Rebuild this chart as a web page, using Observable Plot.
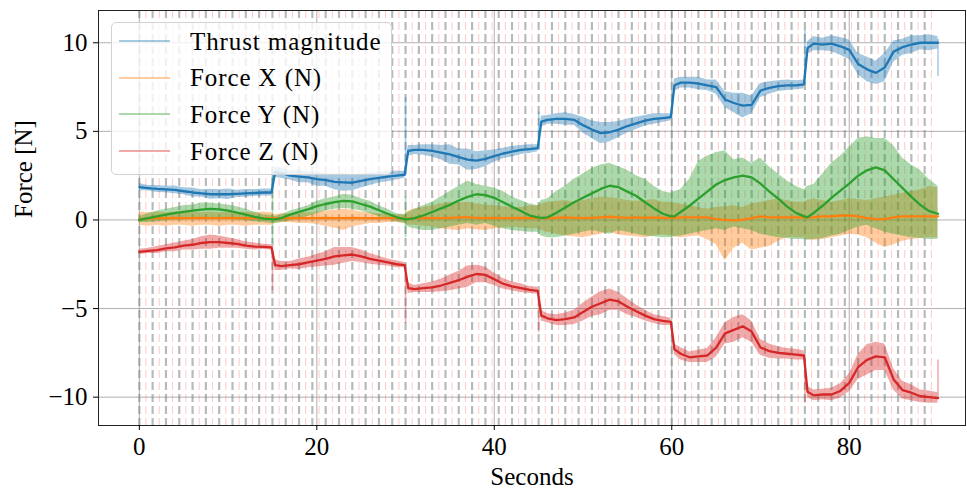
<!DOCTYPE html>
<html><head><meta charset="utf-8">
<script src="https://cdn.jsdelivr.net/npm/d3@7"></script>
<script src="https://cdn.jsdelivr.net/npm/@observablehq/plot@0.6"></script>
<style>
body{margin:0;background:#fff;}
#wrap{position:relative;width:967px;height:488px;overflow:hidden;}
#legend{position:absolute;left:111px;top:22px;width:281px;height:153px;box-sizing:border-box;border:1px solid #d2d2d2;border-radius:5px;background:rgba(255,255,255,0.8);}
.row{display:flex;align-items:center;height:36.6px;}
.sw{margin-left:7px;width:51px;height:2px;}
.lb{margin-left:20px;font-family:"Liberation Serif",serif;font-size:25px;line-height:1;color:#000;white-space:nowrap;letter-spacing:0.9px;}
</style></head><body><div id="wrap"></div>
<script>
// ---- time grid (seconds) ----
const T = [0,1,2,3,4,5,6,7,8,9,10,11,12,13,14,
 14.9,15.3,
 16,17,18,19,20,21,22,23,24,25,26,27,28,29,
 29.9,30.3,
 31,32,33,34,35,36,37,38,39,40,41,42,43,44,
 44.9,45.3,
 46,47,48,49,50,51,52,53,54,55,56,57,58,59,
 59.9,60.3,
 61,62,63,64,65,66,67,68,69,70,71,72,73,74,
 74.9,75.3,
 76,77,78,79,80,81,82,83,84,85,86,87,88,89,90];

// ---- Thrust magnitude (smoothed) and raw half-spread ----
const thrustV = [1.85,1.8,1.75,1.72,1.7,1.62,1.55,1.5,1.45,1.45,1.45,1.47,1.5,1.52,1.55,
 1.55,2.7,
 2.65,2.5,2.45,2.4,2.3,2.25,2.15,2.12,2.1,2.2,2.3,2.38,2.45,2.5,
 2.55,3.9,
 3.95,3.95,3.9,3.8,3.7,3.55,3.4,3.35,3.45,3.6,3.75,3.85,3.95,4.0,
 4.05,5.55,
 5.65,5.7,5.7,5.65,5.35,5.1,4.9,4.95,5.1,5.3,5.45,5.6,5.7,5.75,
 5.8,7.6,
 7.75,7.75,7.7,7.6,7.5,6.8,6.6,6.45,6.5,7.3,7.45,7.55,7.6,7.6,
 7.65,9.7,
 9.95,9.9,9.95,9.8,9.6,8.8,8.5,8.3,8.6,9.5,9.75,9.9,10.0,10.0,10.0];
const thrustS = [.2,.15,.2,.18,.22,.2,.25,.2,.28,.25,.3,.2,.22,.2,.2,
 .2,.3,
 .3,.25,.35,.3,.4,.35,.45,.5,.45,.4,.35,.3,.3,.25,
 .2,.3,
 .25,.3,.35,.4,.55,.45,.6,.5,.45,.35,.3,.3,.25,.25,
 .2,.3,
 .25,.3,.35,.3,.45,.5,.6,.55,.45,.4,.35,.3,.3,.25,
 .2,.35,
 .3,.3,.35,.3,.4,.45,.55,.7,.5,.4,.35,.3,.3,.25,
 .25,.35,
 .4,.35,.45,.5,.55,.6,.7,.65,.8,.6,.45,.5,.4,.45,.35];

// ---- Force X (smoothed) and raw envelope ----
const fxV = [.05,.08,.1,.1,.12,.1,.1,.12,.1,.1,.12,.1,.1,.1,.1,
 .1,.1,
 .1,.1,.12,.1,.1,.12,.1,.1,.12,.1,.1,.1,.1,.1,
 .08,.08,
 .1,.12,.1,.1,.12,.15,.15,.12,.1,.12,.1,.1,.12,.1,
 .1,.1,
 .1,.12,.15,.12,.1,.12,.15,.18,.15,.12,.15,.12,.15,.12,
 .12,.12,
 .15,.15,.15,.15,.05,0,-.02,.02,.1,.2,.15,.15,.15,.15,
 .15,.15,
 .15,.2,.2,.25,.25,.2,.1,.05,.05,.15,.2,.2,.2,.2,.2];
const fxLo = [-.3,-.35,-.3,-.35,-.3,-.3,-.35,-.3,-.3,-.35,-.3,-.3,-.35,-.3,-.3,
 -.3,-.2,
 -.15,-.15,-.2,-.2,-.25,-.35,-.45,-.6,-.4,-.3,-.2,-.2,-.15,-.15,
 -.2,-.3,
 -.3,-.35,-.4,-.5,-.55,-.6,-.5,-.55,-.6,-.5,-.45,-.4,-.45,-.5,
 -.5,-.6,
 -.7,-.8,-.9,-.95,-1.0,-.9,-.8,-.7,-.85,-.9,-.95,-1.0,-.9,-.85,
 -.9,-.95,
 -1.0,-.95,-.9,-1.1,-1.4,-2.3,-1.6,-1.3,-1.7,-1.6,-1.5,-1.2,-1.0,-1.0,
 -1.0,-1.1,
 -1.15,-1.1,-1.0,-.9,-.8,-.85,-1.0,-1.3,-1.55,-1.4,-1.2,-1.1,-1.05,-1.0,-1.0];
const fxHi = [.45,.4,.45,.4,.45,.5,.45,.4,.45,.4,.45,.4,.45,.4,.45,
 .4,.3,
 .35,.35,.4,.4,.45,.5,.55,.6,.55,.45,.4,.35,.35,.3,
 .3,.5,
 .6,.7,.8,.9,1.0,.95,1.0,.9,.85,.8,.75,.7,.7,.8,
 .8,.9,
 1.0,1.05,1.1,1.0,1.1,1.2,1.3,1.25,1.2,1.1,1.05,1.1,1.15,1.0,
 1.0,.95,
 .9,.8,.7,.6,.7,.75,.8,.7,.9,1.0,1.1,1.2,1.1,1.0,
 1.0,1.1,
 1.2,1.1,1.0,1.1,1.2,1.15,1.1,1.2,1.3,1.4,1.5,1.6,1.7,1.9,1.8];

// ---- Force Y (smoothed) and raw envelope ----
const fyV = [0,.1,.2,.3,.38,.45,.52,.58,.62,.6,.52,.42,.3,.18,.08,
 .05,.03,
 .1,.3,.45,.6,.78,.9,1.0,1.08,1.05,.9,.75,.55,.35,.15,
 .05,.05,
 .1,.25,.45,.65,.85,1.1,1.3,1.45,1.4,1.25,1.0,.75,.5,.25,
 .15,.12,
 .15,.4,.7,1.0,1.25,1.5,1.75,1.93,1.85,1.6,1.35,1.0,.65,.35,
 .2,.2,
 .45,.8,1.2,1.6,2.0,2.25,2.4,2.5,2.4,2.05,1.6,1.2,.75,.4,
 .2,.15,
 .4,.8,1.25,1.65,2.05,2.5,2.8,2.97,2.8,2.3,1.8,1.3,.85,.5,.35];
const fyLo = [-.15,-.15,-.1,-.05,0,0,.05,.1,.1,.1,.05,0,-.05,-.1,-.15,
 -.2,-.2,
 -.15,-.05,.05,.2,.35,.5,.6,.65,.6,.5,.35,.2,.05,-.1,
 -.2,-.4,
 -.5,-.6,-.6,-.5,-.4,-.3,-.2,-.3,-.2,-.35,-.5,-.6,-.65,-.7,
 -.7,-.9,
 -1.0,-1.0,-.9,-.8,-.7,-.6,-.7,-.8,-.6,-.7,-.8,-.9,-.95,-1.0,
 -1.0,-.95,
 -.9,-.8,-.7,-.6,-.5,-.6,-.4,-.5,-.6,-.8,-.9,-1.0,-1.05,-1.1,
 -1.1,-1.15,
 -1.1,-1.05,-.9,-.8,-.6,-.4,-.3,-.5,-.7,-.8,-.9,-1.0,-1.05,-1.1,-1.1];
const fyHi = [.2,.35,.5,.6,.7,.8,.85,.95,.95,.9,.85,.75,.6,.45,.3,
 .25,.2,
 .3,.5,.65,.8,1.05,1.2,1.3,1.45,1.4,1.2,1.05,.8,.6,.35,
 .3,.4,
 .6,.8,1.0,1.3,1.6,1.9,2.2,2.0,1.9,1.8,1.6,1.3,1.1,.9,
 .8,1.1,
 1.2,1.6,1.9,2.3,2.6,2.9,3.1,3.2,3.0,2.8,2.5,2.3,1.9,1.6,
 1.5,1.6,
 1.7,2.3,3.3,3.6,3.8,3.9,3.4,3.5,3.2,3.5,3.0,2.6,2.2,1.9,
 1.7,1.9,
 2.0,2.6,3.2,3.6,4.1,4.6,4.7,4.6,4.6,4.2,3.5,3.1,2.8,2.3,1.9];

// ---- Force Z (smoothed) and raw half-spread ----
const fzV = [-1.8,-1.75,-1.7,-1.6,-1.55,-1.45,-1.4,-1.3,-1.25,-1.25,-1.3,-1.35,-1.45,-1.5,-1.52,
 -1.55,-2.55,
 -2.6,-2.55,-2.5,-2.4,-2.3,-2.2,-2.05,-2.0,-1.95,-2.05,-2.2,-2.3,-2.4,-2.5,
 -2.55,-3.85,
 -3.9,-3.85,-3.8,-3.7,-3.55,-3.4,-3.2,-3.05,-3.1,-3.35,-3.6,-3.75,-3.85,-3.95,
 -4.0,-5.4,
 -5.55,-5.65,-5.6,-5.5,-5.2,-4.9,-4.7,-4.5,-4.6,-4.9,-5.15,-5.4,-5.6,-5.7,
 -5.75,-7.3,
 -7.55,-7.75,-7.7,-7.65,-7.2,-6.4,-6.2,-6.0,-6.3,-7.2,-7.4,-7.5,-7.55,-7.6,
 -7.65,-9.7,
 -9.9,-9.85,-9.85,-9.65,-9.2,-8.3,-7.9,-7.7,-7.75,-9.0,-9.6,-9.75,-9.95,-10.0,-10.05];
const fzS = [.15,.15,.2,.2,.25,.25,.3,.35,.4,.35,.3,.25,.2,.2,.15,
 .15,.3,
 .25,.2,.3,.3,.35,.4,.5,.45,.4,.35,.3,.25,.2,.2,
 .15,.3,
 .2,.25,.3,.35,.45,.5,.6,.5,.45,.35,.3,.25,.25,.2,
 .2,.3,
 .25,.3,.35,.4,.5,.55,.65,.6,.5,.45,.35,.3,.25,.25,
 .2,.3,
 .35,.3,.35,.4,.55,.6,.7,.65,.6,.45,.4,.35,.3,.3,
 .25,.3,
 .3,.3,.35,.4,.5,.7,.85,.8,.75,.6,.5,.45,.35,.35,.3];

// ---- transient spikes in the raw signals ----
const thrustSpikeT = [15, 30, 45, 75, 90];
const thrustSpikeLo = [1.5, 2.5, 4.0, 7.6, 8.1];
const thrustSpikeHi = [3.0, 6.9, 6.1, 10.7, 10.2];
const fzSpikeT = [15, 30, 45, 75, 90];
const fzSpikeLo = [-4.0, -5.85, -6.35, -10.35, -10.1];
const fzSpikeHi = [-1.5, -2.5, -4.0, -7.6, -7.9];
const fySpikeT = [15, 30];
const fySpikeLo = [-1.35, -1.0];
const fySpikeHi = [2.5, 1.3];

// ---- event markers ----
const grayEvents = [0,1.5,3,4.5,6,7.5,9,10.5,12,13.5,15,16.5,18,19.5,21,22.5,24,25.5,27,28.5,30,31.5,33,34.5,36,37.5,39,40.5,42,43.5,45,46.5,48,49.5,51,52.5,54,55.5,57,58.5,60,61.5,63,64.5,66,67.5,69,70.5,72,73.5,75,76.5,78,79.5,81,82.5,84,85.5,87,88.5];
const pinkEvents = [0.75,2.25,3.75,5.25,6.75,8.25,9.75,11.25,12.75,14.25,15.75,17.25,18.75,20.25,21.75,23.25,24.75,26.25,27.75,29.25,30.75,32.25,33.75,35.25,36.75,38.25,39.75,41.25,42.75,44.25,45.75,47.25,48.75,50.25,51.75,53.25,54.75,56.25,57.75,59.25,60.75,62.25,63.75,65.25,66.75,68.25,69.75,71.25,72.75,74.25,75.75,77.25,78.75,80.25,81.75,83.25,84.75,86.25,87.75,89.25];

// ---- ticks / labels ----
const xTicks = [0, 20, 40, 60, 80];
const yTicks = [-10, -5, 0, 5, 10];
const seriesNames = ["Thrust magnitude", "Force X (N)", "Force Y (N)", "Force Z (N)"];
const seriesColors = ["#1f77b4", "#ff7f0e", "#2ca02c", "#d62728"];

for (const [n, a] of Object.entries({thrustV, thrustS, fxV, fxLo, fxHi, fyV, fyLo, fyHi, fzV, fzS})) {
  if (a.length !== T.length) throw new Error(n + " length " + a.length + " != " + T.length);
}

const rows = T.map((t, i) => ({t, th: thrustV[i], thS: thrustS[i], fx: fxV[i], fxLo: fxLo[i], fxHi: fxHi[i],
  fy: fyV[i], fyLo: fyLo[i], fyHi: fyHi[i], fz: fzV[i], fzS: fzS[i]}));
const spikes = (ts, lo, hi) => ts.map((t, i) => ({t, lo: lo[i], hi: hi[i]}));
const fmt = d => d < 0 ? "\u2212" + Math.abs(d) : String(d);
const RAW_OP = 0.4;
const [cT, cX, cY, cZ] = seriesColors;

const plot = Plot.plot({
  width: 967, height: 488,
  marginLeft: 98, marginRight: 2, marginTop: 10, marginBottom: 63,
  style: {fontFamily: "Liberation Serif", fontSize: "25px", background: "white", color: "black"},
  x: {domain: [-4.6, 93.1]},
  y: {domain: [-11.6, 11.82]},
  marks: [
    Plot.gridX(xTicks, {stroke: "#b0b0b0", strokeOpacity: 1, strokeWidth: 1}),
    Plot.gridY(yTicks, {stroke: "#b0b0b0", strokeOpacity: 1, strokeWidth: 1}),
    Plot.ruleX(grayEvents, {stroke: "gray", strokeOpacity: 0.55, strokeWidth: 2.2, strokeDasharray: "8,4"}),
    Plot.ruleX(pinkEvents, {stroke: "red", strokeOpacity: 0.22, strokeWidth: 1, strokeDasharray: "8,4"}),
    // raw signals
    Plot.areaY(rows, {x: "t", y1: d => d.th - d.thS, y2: d => d.th + d.thS, fill: cT, fillOpacity: RAW_OP}),
    Plot.ruleX(spikes(thrustSpikeT, thrustSpikeLo, thrustSpikeHi), {x: "t", y1: "lo", y2: "hi", stroke: cT, strokeOpacity: RAW_OP, strokeWidth: 1.5}),
    Plot.areaY(rows, {x: "t", y1: "fxLo", y2: "fxHi", fill: cX, fillOpacity: RAW_OP}),
    Plot.areaY(rows, {x: "t", y1: "fyLo", y2: "fyHi", fill: cY, fillOpacity: RAW_OP}),
    Plot.ruleX(spikes(fySpikeT, fySpikeLo, fySpikeHi), {x: "t", y1: "lo", y2: "hi", stroke: cY, strokeOpacity: RAW_OP, strokeWidth: 1.5}),
    Plot.areaY(rows, {x: "t", y1: d => d.fz - d.fzS, y2: d => d.fz + d.fzS, fill: cZ, fillOpacity: RAW_OP}),
    Plot.ruleX(spikes(fzSpikeT, fzSpikeLo, fzSpikeHi), {x: "t", y1: "lo", y2: "hi", stroke: cZ, strokeOpacity: RAW_OP, strokeWidth: 1.5}),
    // smoothed signals
    Plot.line(rows, {x: "t", y: "th", stroke: cT, strokeWidth: 2.3}),
    Plot.line(rows, {x: "t", y: "fx", stroke: cX, strokeWidth: 2.3}),
    Plot.line(rows, {x: "t", y: "fy", stroke: cY, strokeWidth: 2.3}),
    Plot.line(rows, {x: "t", y: "fz", stroke: cZ, strokeWidth: 2.3}),
    Plot.frame({stroke: "#222", strokeWidth: 1}),
    Plot.axisX(xTicks, {tickSize: 5, tickPadding: 7, label: null, fontSize: 25, tickFormat: fmt}),
    Plot.axisY(yTicks, {tickSize: 5, tickPadding: 6, label: null, fontSize: 25, tickFormat: fmt}),
    Plot.text(["Seconds"], {frameAnchor: "bottom", dy: 59, text: d => d, fontSize: 25, letterSpacing: 0.6}),
    Plot.text(["Force [N]"], {frameAnchor: "left", dx: -75, rotate: -90, text: d => d, fontSize: 25, letterSpacing: 0.6})
  ]
});

const wrap = document.getElementById("wrap");
wrap.appendChild(plot);
const legend = document.createElement("div");
legend.id = "legend";
seriesNames.forEach((name, i) => {
  const row = document.createElement("div");
  row.className = "row";
  const sw = document.createElement("div");
  sw.className = "sw";
  sw.style.background = seriesColors[i];
  sw.style.opacity = RAW_OP;
  const lb = document.createElement("div");
  lb.className = "lb";
  lb.textContent = name;
  row.appendChild(sw); row.appendChild(lb);
  legend.appendChild(row);
});
wrap.appendChild(legend);
</script>
</body></html>
